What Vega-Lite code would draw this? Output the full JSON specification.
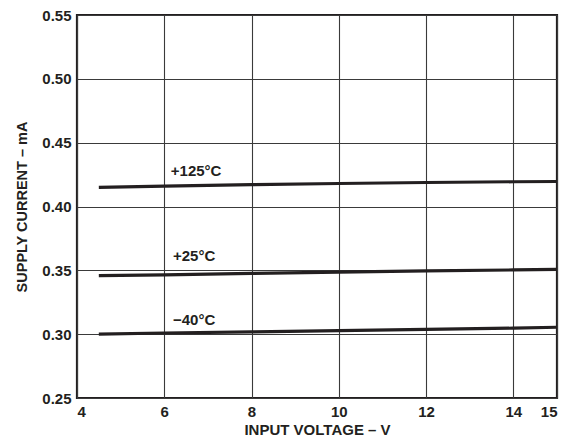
{
  "$schema": "https://vega.github.io/schema/vega-lite/v6.json",
  "width": 480,
  "height": 383,
  "autosize": {"type": "none"},
  "padding": {"left": 77, "top": 15, "right": 17, "bottom": 44},
  "background": "white",
  "config": {
    "font": "Liberation Sans",
    "view": {"stroke": "#231f20", "strokeWidth": 2.2},
    "axis": {
      "labelFont": "Liberation Sans",
      "labelFontWeight": "bold",
      "labelFontSize": 15,
      "labelColor": "#231f20",
      "titleFont": "Liberation Sans",
      "titleFontWeight": "bold",
      "titleFontSize": 15,
      "titleColor": "#231f20",
      "grid": true,
      "gridColor": "#3a3a3a",
      "gridWidth": 1.1,
      "gridOpacity": 1,
      "domain": false,
      "ticks": false
    }
  },
  "datasets": {
    "curves": [
      {"v": 4.5, "i": 0.4150, "temp": "+125°C"},
      {"v": 6.0, "i": 0.4159, "temp": "+125°C"},
      {"v": 8.0, "i": 0.4171, "temp": "+125°C"},
      {"v": 10.0, "i": 0.4180, "temp": "+125°C"},
      {"v": 12.0, "i": 0.4188, "temp": "+125°C"},
      {"v": 14.0, "i": 0.4194, "temp": "+125°C"},
      {"v": 15.0, "i": 0.4196, "temp": "+125°C"},
      {"v": 4.5, "i": 0.3458, "temp": "+25°C"},
      {"v": 6.0, "i": 0.3464, "temp": "+25°C"},
      {"v": 8.0, "i": 0.3476, "temp": "+25°C"},
      {"v": 10.0, "i": 0.3486, "temp": "+25°C"},
      {"v": 12.0, "i": 0.3495, "temp": "+25°C"},
      {"v": 14.0, "i": 0.3503, "temp": "+25°C"},
      {"v": 15.0, "i": 0.3508, "temp": "+25°C"},
      {"v": 4.5, "i": 0.3001, "temp": "−40°C"},
      {"v": 6.0, "i": 0.3009, "temp": "−40°C"},
      {"v": 8.0, "i": 0.3018, "temp": "−40°C"},
      {"v": 10.0, "i": 0.3027, "temp": "−40°C"},
      {"v": 12.0, "i": 0.3037, "temp": "−40°C"},
      {"v": 14.0, "i": 0.3047, "temp": "−40°C"},
      {"v": 15.0, "i": 0.3054, "temp": "−40°C"}
    ],
    "labels": [
      {"v": 6.15, "i": 0.4280, "label": "+125°C"},
      {"v": 6.2, "i": 0.3610, "label": "+25°C"},
      {"v": 6.2, "i": 0.3110, "label": "−40°C"}
    ]
  },
  "layer": [
    {
      "data": {"name": "curves"},
      "mark": {"type": "line", "color": "#231f20", "strokeWidth": 3.2, "clip": true},
      "encoding": {
        "x": {
          "field": "v", "type": "quantitative",
          "scale": {"domain": [4, 15], "nice": false, "zero": false},
          "axis": {"values": [4, 6, 8, 10, 12, 14, 15], "format": "d", "title": "INPUT VOLTAGE – V", "labelPadding": 6, "titlePadding": 3}
        },
        "y": {
          "field": "i", "type": "quantitative",
          "scale": {"domain": [0.25, 0.55], "nice": false, "zero": false},
          "axis": {"values": [0.25, 0.3, 0.35, 0.4, 0.45, 0.5, 0.55], "format": ".2f", "title": "SUPPLY CURRENT – mA", "titleFontSize": 14.5, "labelPadding": 6, "titlePadding": 12}
        },
        "detail": {"field": "temp"}
      }
    },
    {
      "data": {"name": "labels"},
      "mark": {"type": "text", "align": "left", "baseline": "middle", "font": "Liberation Sans", "fontWeight": "bold", "fontSize": 15, "color": "#231f20"},
      "encoding": {
        "x": {"field": "v", "type": "quantitative"},
        "y": {"field": "i", "type": "quantitative"},
        "text": {"field": "label"}
      }
    }
  ]
}
